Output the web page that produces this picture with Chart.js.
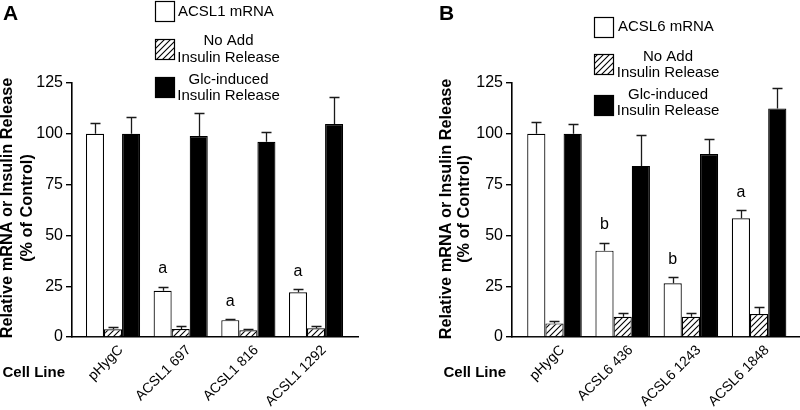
<!DOCTYPE html>
<html><head><meta charset="utf-8">
<script src="https://cdn.jsdelivr.net/npm/chart.js@4.4.1/dist/chart.umd.min.js"></script>
<style>
html,body{margin:0;padding:0;background:#fff;}
#wrap{position:relative;width:800px;height:410px;overflow:hidden;background:#fff;}
canvas{position:absolute;top:0;}
</style></head><body>
<div id="wrap">
<canvas id="cA" width="400" height="410" style="left:0"></canvas>
<canvas id="cB" width="400" height="410" style="left:400px"></canvas>
</div>
<script>
const FONT = '"Liberation Sans", Arial, Helvetica, sans-serif';

// ---- shared text ----
const yTicks = [0, 25, 50, 75, 100, 125];
const yTitleLines = ['Relative mRNA or Insulin Release', '(% of Control)'];
const xAxisLabel = 'Cell Line';

// ---- Panel A (ACSL1) ----
const categoriesA = ['pHygC', 'ACSL1 697', 'ACSL1 816', 'ACSL1 1292'];
const seriesNamesA = ['ACSL1 mRNA', 'No Add\nInsulin Release', 'Glc-induced\nInsulin Release'];
const mrnaA = [100, 22.7, 8.3, 22.0];
const mrnaErrA = [5.5, 2.0, 0.4, 1.5];
const noAddA = [3.8, 3.9, 3.3, 4.3];
const noAddErrA = [1.0, 1.4, 0.4, 1.1];
const glcA = [100, 98.9, 96.1, 104.8];
const glcErrA = [8.1, 11.2, 4.9, 13.2];
const sigA = ['', 'a', 'a', 'a'];

// ---- Panel B (ACSL6) ----
const categoriesB = ['pHygC', 'ACSL6 436', 'ACSL6 1243', 'ACSL6 1848'];
const seriesNamesB = ['ACSL6 mRNA', 'No Add\nInsulin Release', 'Glc-induced\nInsulin Release'];
const mrnaB = [100, 42.5, 26.4, 58.4];
const mrnaErrB = [6.0, 3.9, 3.0, 3.9];
const noAddB = [6.7, 10.0, 10.0, 11.3];
const noAddErrB = [1.3, 2.0, 1.8, 3.6];
const glcB = [100, 84.2, 90.0, 112.5];
const glcErrB = [4.7, 15.2, 7.3, 9.9];
const sigB = ['', 'b', 'b', 'a'];

function makeHatch() {
  const s = 6;
  const c = document.createElement('canvas');
  c.width = s; c.height = s;
  const g = c.getContext('2d');
  g.fillStyle = '#fff'; g.fillRect(0, 0, s, s);
  g.strokeStyle = '#000'; g.lineWidth = 1.1;
  g.beginPath();
  g.moveTo(-1, s + 1); g.lineTo(s + 1, -1);
  g.moveTo(-1, 1); g.lineTo(1, -1);
  g.moveTo(s - 1, s + 1); g.lineTo(s + 1, s - 1);
  g.stroke();
  return g.createPattern(c, 'repeat');
}
const hatch = makeHatch();
const fills = ['#ffffff', hatch, '#000000'];

const decor = {
  id: 'decor',
  afterDraw(chart, args, o) {
    const ctx = chart.ctx, ys = chart.scales.y;
    ctx.save();
    // error bars (upper only)
    ctx.strokeStyle = '#1a1a1a'; ctx.lineWidth = 1.3;
    o.errors.forEach((errs, di) => {
      const meta = chart.getDatasetMeta(di);
      const vals = chart.data.datasets[di].data;
      meta.data.forEach((bar, i) => {
        const yTop = Math.round(ys.getPixelForValue(vals[i].y + errs[i])) + 0.5;
        const x = Math.round(bar.x) + 0.5;
        ctx.beginPath();
        ctx.moveTo(x, bar.y); ctx.lineTo(x, yTop);
        ctx.moveTo(x - 5, yTop); ctx.lineTo(x + 5, yTop);
        ctx.stroke();
      });
    });
    // significance letters above the mRNA bars
    ctx.fillStyle = '#000';
    ctx.font = '16px ' + FONT;
    ctx.textAlign = 'center'; ctx.textBaseline = 'alphabetic';
    const m0 = chart.getDatasetMeta(0);
    const v0 = chart.data.datasets[0].data;
    o.sig.forEach((s, i) => {
      if (!s) return;
      const yTop = ys.getPixelForValue(v0[i].y + o.errors[0][i]);
      ctx.fillText(s, m0.data[i].x, yTop - 13.5);
    });
    // y axis title
    ctx.font = 'bold 16.3px ' + FONT;
    ctx.textBaseline = 'middle';
    yTitleLines.forEach((t, k) => {
      ctx.save();
      ctx.translate(o.yTitleX[k], o.yTitleY);
      ctx.rotate(-Math.PI / 2);
      ctx.fillText(t, 0, 0);
      ctx.restore();
    });
    // Cell Line
    ctx.font = 'bold 15px ' + FONT;
    ctx.textAlign = 'right'; ctx.textBaseline = 'alphabetic';
    ctx.fillText(xAxisLabel, o.cellX, 376.5);
    // panel letter
    ctx.font = 'bold 21px ' + FONT;
    ctx.textAlign = 'left';
    ctx.fillText(o.letter, o.letterX, 20);
    // legend
    ctx.font = '15px ' + FONT;
    ctx.textBaseline = 'middle';
    chart.data.datasets.forEach((ds, di) => {
      const L = o.legend[di];
      ctx.fillStyle = fills[di];
      ctx.fillRect(o.boxX, L.boxY, 19, 20);
      ctx.strokeStyle = '#000'; ctx.lineWidth = 1.2;
      ctx.strokeRect(o.boxX + 0.5, L.boxY + 0.5, 19, 20);
      ctx.fillStyle = '#000';
      const lines = ds.label.split('\n');
      if (lines.length === 1) {
        ctx.textAlign = 'left';
        ctx.fillText(lines[0], o.textLeft, L.lineY[0]);
      } else {
        ctx.textAlign = 'center';
        lines.forEach((t, k) => ctx.fillText(t, o.textCenter, L.lineY[k]));
      }
    });
    ctx.restore();
  }
};

function makeChart(id, cats, names, series, errs, sig, xr, pad, yw, extra) {
  return new Chart(document.getElementById(id), {
    type: 'bar',
    data: {
      datasets: series.map((arr, di) => ({
        label: names[di],
        data: arr.map((v, i) => ({ x: i + 1, y: v })),
        backgroundColor: fills[di],
        borderColor: '#000',
        borderWidth: 1.2,
        borderSkipped: 'start',
        categoryPercentage: 0.8,
        barPercentage: 1.0
      }))
    },
    options: {
      responsive: false,
      animation: false,
      events: [],
      layout: { padding: { top: 83, right: pad, left: 0, bottom: 0 } },
      plugins: {
        legend: { display: false },
        tooltip: { enabled: false },
        decor: Object.assign({ errors: errs, sig: sig }, extra)
      },
      scales: {
        x: {
          type: 'linear',
          offset: false,
          min: xr[0], max: xr[1],
          afterBuildTicks: (s) => { s.ticks = cats.map((c, i) => ({ value: i + 1 })); },
          afterFit: (s) => { s.height = 73; },
          grid: { display: false, drawTicks: false, offset: false },
          border: { display: true, color: '#000', width: 1.6 },
          ticks: {
            autoSkip: false, minRotation: 45, maxRotation: 45,
            padding: 5, labelOffset: 8, color: '#000',
            font: { family: FONT, size: 14 },
            callback: (v) => cats[Math.round(v) - 1] || ''
          }
        },
        y: {
          min: 0, max: 125,
          afterBuildTicks: (s) => { s.ticks = yTicks.map(v => ({ value: v })); },
          afterFit: (s) => { s.width = yw; },
          grid: { drawOnChartArea: false, drawTicks: true, tickLength: 6, color: '#000', lineWidth: 1.4 },
          border: { display: true, color: '#000', width: 1.6 },
          ticks: { padding: 3, color: '#000', font: { family: FONT, size: 16 } }
        }
      }
    },
    plugins: [decor]
  });
}

makeChart('cA', categoriesA, seriesNamesA, [mrnaA, noAddA, glcA], [mrnaErrA, noAddErrA, glcErrA], sigA,
  [0.394, 4.62], 42, 72,
  { letter: 'A', letterX: 3, yTitleX: [8, 27.5], yTitleY: 208, cellX: 65,
    boxX: 155, textLeft: 178, textCenter: 228.5,
    legend: [{ boxY: 1, lineY: [12] }, { boxY: 39, lineY: [41, 58] }, { boxY: 77, lineY: [79.5, 96] }] });

makeChart('cB', categoriesB, seriesNamesB, [mrnaB, noAddB, glcB], [mrnaErrB, noAddErrB, glcErrB], sigB,
  [0.377, 4.6], 0, 112,
  { letter: 'B', letterX: 39, yTitleX: [46.5, 65], yTitleY: 209, cellX: 106,
    boxX: 194, textLeft: 218, textCenter: 268,
    legend: [{ boxY: 17, lineY: [27] }, { boxY: 54, lineY: [56.5, 72.5] }, { boxY: 95, lineY: [94.5, 111] }] });
</script>
</body></html>
